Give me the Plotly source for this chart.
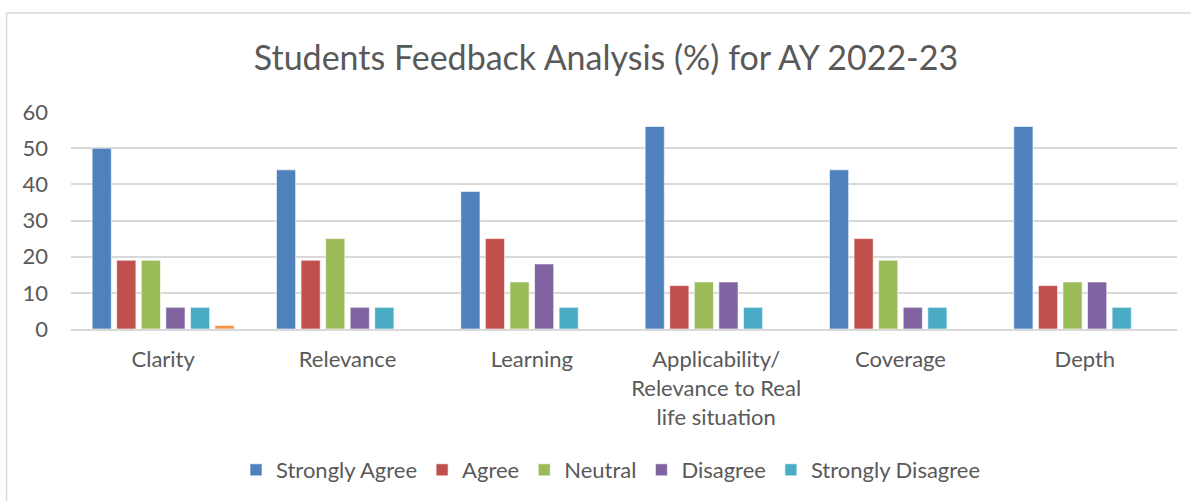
import plotly.graph_objects as go

categories = ["Clarity", "Relevance", "Learning",
              "Applicability/<br>Relevance to Real<br>life situation",
              "Coverage", "Depth"]
strongly_agree = [50, 44, 38, 56, 44, 56]
agree = [19, 19, 25, 12, 25, 12]
neutral = [19, 25, 13, 13, 19, 13]
disagree = [6, 6, 18, 13, 6, 13]
strongly_disagree = [6, 6, 6, 6, 6, 6]
other = [1, 0, 0, 0, 0, 0]

series = [
    ("Strongly Agree", strongly_agree, "#4F81BD", True),
    ("Agree", agree, "#C0504D", True),
    ("Neutral", neutral, "#9BBB59", True),
    ("Disagree", disagree, "#8064A2", True),
    ("Strongly Disagree", strongly_disagree, "#4BACC6", True),
    ("Series6", other, "#F79646", False),
]

FONT = "Lato"
GREY = "#595959"

fig = go.Figure()
for name, vals, color, show in series:
    fig.add_trace(go.Bar(
        x=categories, y=vals, name=name, showlegend=show,
        marker=dict(color=color, line=dict(color="rgba(255,255,255,0.6)", width=1)),
    ))

W, H = 1191, 501
L, R, T, B = 71, 14, 112, 172
pw = W - L - R
ph = H - T - B

def px(x):
    return (x - L) / pw

def py(y):
    return (H - B - y) / ph

shapes = [
    dict(type="line", xref="paper", yref="paper", x0=px(6.5), x1=px(6.5), y0=py(13), y1=py(520),
         line=dict(color="#D9D9D9", width=1.5)),
    dict(type="line", xref="paper", yref="paper", x0=px(6), x1=px(1210), y0=py(13), y1=py(13),
         line=dict(color="#D9D9D9", width=1.5)),
]

fig.update_layout(
    width=W, height=H,
    margin=dict(l=L, r=R, t=T, b=B, autoexpand=False),
    paper_bgcolor="white", plot_bgcolor="white",
    barmode="group", bargap=0.2, bargroupgap=0.22,
    title=dict(text="Students Feedback Analysis (%) for AY 2022-23",
               x=px(606), xanchor="center", xref="paper", y=1 - 58 / H, yanchor="middle",
               font=dict(family=FONT, size=34, color=GREY)),
    font=dict(family=FONT, size=22, color=GREY),
    xaxis=dict(showline=True, linecolor="#D9D9D9", linewidth=2, ticks="",
               tickfont=dict(size=22, color=GREY), showgrid=False, ticklabelstandoff=10),
    yaxis=dict(range=[0, 60], dtick=10, showgrid=True, gridcolor="#D9D9D9", gridwidth=2,
               zeroline=False, ticks="", tickfont=dict(size=22, color=GREY),
               ticklabelstandoff=22),
    legend=dict(orientation="h", x=px(611), xanchor="center", y=py(470), yanchor="middle",
                font=dict(size=22, color=GREY), itemwidth=30, traceorder="normal"),
    shapes=shapes,
)

fig.write_html("out.html", config={"displayModeBar": False},
               post_script="document.body.style.margin='0px';")
